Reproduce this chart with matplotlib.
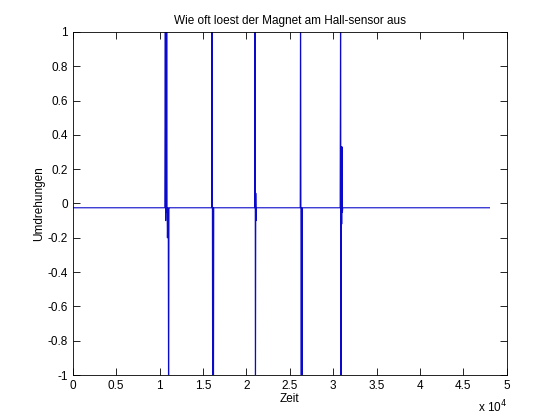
import numpy as np
import matplotlib.pyplot as plt
from matplotlib.ticker import FuncFormatter, MultipleLocator

plt.rcParams['font.family'] = ['Liberation Sans', 'DejaVu Sans']
plt.rcParams['font.size'] = 8.5

base = -0.025

# sample times (s) and hall sensor readings
zeit = [0, 10600, 10660, 10700, 10740, 10780, 10820, 10860, 10900, 10960, 11000, 11040, 11080, 11100,
        16000, 16040, 16080, 16120, 16160, 16200, 16240,
        20950, 21000, 21040, 21080, 21120, 21160,
        26200, 26240, 26280, 26320, 26360, 26400, 26440,
        30800, 30860, 30900, 30940, 30980, 31020, 31060, 31100,
        48000]
umdrehungen = [base, base, 1.5, -0.1, 1.5, -0.05, 1.5, base, -0.2, base, -0.2, -1.5, base, base,
               base, 1.5, base, -1.5, base, -1.5, base,
               base, 1.5, -1.5, 0.06, -0.1, base,
               base, 1.5, 0.0, -1.5, base, -1.5, base,
               base, 1.5, -1.5, 0.33, -0.12, 0.33, -0.05, base,
               base]

fig = plt.figure(figsize=(5.6, 4.2), dpi=100)
ax = fig.add_axes([0.13, 0.107, 0.775, 0.817])
ax.plot(zeit, umdrehungen, color='#0a0ac8', linewidth=0.8)

ax.set_xlim(0, 50000)
ax.set_ylim(-1, 1)
ax.xaxis.set_major_locator(MultipleLocator(5000))
ax.yaxis.set_major_locator(MultipleLocator(0.2))
ax.xaxis.set_major_formatter(FuncFormatter(lambda v, p: f"{v/1e4:g}"))
ax.yaxis.set_major_formatter(FuncFormatter(lambda v, p: f"{v:g}" if abs(v) > 1e-9 else "0"))
ax.tick_params(direction='in', top=True, right=True, length=5, width=0.6, labelsize=8.5)
for s in ax.spines.values():
    s.set_linewidth(0.6)

ax.set_title("Wie oft loest der Magnet am Hall-sensor aus", fontsize=8.5, pad=6)
ax.set_xlabel("Zeit", labelpad=1)
ax.set_ylabel("Umdrehungen", labelpad=2)
fig.text(0.853, 0.018, r"x 10$^4$", fontsize=8.5)

fig.savefig("out.png")
